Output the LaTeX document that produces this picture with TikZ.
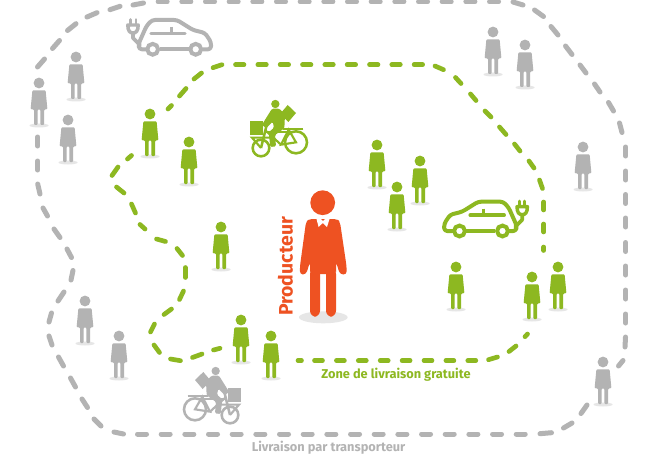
\documentclass[tikz,border=0pt]{standalone}
\usepackage{fontspec}
\setmainfont{Fira Sans}
\definecolor{gn}{HTML}{8DB821}
\definecolor{gy}{HTML}{B3B3B3}
\definecolor{og}{HTML}{EE5222}
\definecolor{sh}{HTML}{E6E6E6}
\tikzset{
  grayline/.style={draw=gy,line width=3.75pt,line cap=round},
  greenline/.style={draw=gn,line width=3.5pt,line cap=round},
  label/.style={inner sep=0pt,font=\bfseries}
}
\newcommand\personshape[3]{%
  \begin{scope}[shift={(#1,#2)}]
    \fill[sh] (0,42.5) ellipse (9.5 and 2);
    \fill[#3,rounded corners=0.8pt] (-6.6,7.3)--(6.6,7.3)--(8.4,26.3)--(5.2,26.3)--(5.2,42)--(1.3,42)--(1.3,26.3)--(-1.3,26.3)--(-1.3,42)--(-5.0,42)--(-5.0,26.3)--(-8.4,26.3)--cycle;
    \fill[#3] (0,0) circle (5.4);
  \end{scope}}
\newcommand\carshape[1]{%
  \draw[#1,line width=3pt,line join=round,line cap=round,rounded corners=2.2pt]
    (146,49.3)--(139,49.3)--(138.5,44)--(146.5,26)--(152,20)--(177,20)--(193,30)--(205,33)--(211,42)--(211,49.3)--(203,49.3);
  \draw[#1,line width=3pt] (160,49.3)--(189,49.3);
  \draw[#1,line width=2.6pt,line cap=round] (151,33.5)--(185,33.5);
  \draw[#1,line width=2pt] (171.5,27)--(171.5,33.5);
  \draw[#1,line width=3pt] (152.7,49.3) circle (5.4);
  \draw[#1,line width=3pt] (195.7,49.3) circle (5.4);
  \draw[#1,line width=2.6pt,line cap=round,line join=round] (127.8,25) .. controls (127.8,31) and (130,33) .. (133,33) .. controls (136,33) and (138.2,31) .. (138.2,25)--cycle;
  \draw[#1,line width=2.2pt,line cap=round] (130.5,19.5)--(130.5,25) (136,19.5)--(136,25);
  \draw[#1,line width=2.8pt,line cap=round,line join=round] (133,33)--(133,38)--(140,45);
}
\newcommand\bikeshape[1]{%
  \draw[#1,line width=1.9pt] (60,148) circle (33);
  \draw[#1,line width=1.9pt] (165,165) circle (25);
  \fill[#1] (122,33) circle (12.5);
  \fill[#1] (85,36)--(107,62)--(83,87)--(60,60)--cycle;
  \fill[#1,rounded corners=1pt] (93,64)--(110,47)--(132,47)--(162,95)--(150,106)--(130,86)--(126,104)--(142,118)--(137,162)--(120,160)--(123,126)--(95,106)--cycle;
  \fill[#1] (160,84)--(198,84)--(198,125)--(160,125)--cycle;
  \draw[#1,line width=1.6pt] (38,108)--(100,108);
  \draw[#1,line width=1.6pt] (60,148)--(82,110)--(105,155)--cycle;
  \draw[#1,line width=1.6pt] (82,118)--(150,118);
  \draw[#1,line width=1.6pt] (105,155)--(152,112);
  \draw[#1,line width=1.9pt] (148,96)--(165,165);
  \draw[#1,line width=1.6pt] (135,134)--(192,134)--(165,165);
}
\begin{document}
\begin{tikzpicture}[x=0.75pt,y=-0.75pt]
\useasboundingbox (0,0) rectangle (659,456);
\fill[white] (0,0) rectangle (659,456);

% outer dashes
\foreach \k in {-2,...,12}{\draw[grayline] ({205.5+23.67*\k},2)--({214.5+23.67*\k},2);}
\foreach \k in {0,...,16}{\draw[grayline] ({137.5+23.67*\k},434)--({146.5+23.67*\k},434);}
\foreach \a/\b/\c/\d in {37.7/137/37.7/146,37.7/161/37.7/170,37.7/184/40/194,43/208/47.5/216,54/229/60/237.5,
 67/249/71.5/257.5,73/270.5/71/280,64/292/58/301,51.5/313/49/322,49/336/52/345,58.5/357/63.5/366,70.5/378/75.5/387,
 82/399/87.5/407.5,94/419/101/426,114/432/123.5/434,
 540/433.7/551.5/432.7,563.5/428/572/423,581/413.5/587/405,618.5/366/623/360.5,625/347/625.5/337,
 625.7/314/625.7/323,625.7/290/625.7/299,625.7/266/625.7/275,625.7/242.5/625.7/251.5,625.7/218/625.7/227,625.7/194.5/625.7/203.5,625.7/171/625.7/180,625.7/147/625.7/156,
 622/132.5/619.5/123,613.5/111/608.5/102.5,600/92/594.5/84,586/73/580/65,572/54.5/565.5/46,558/35/551/26.5,543.5/16.5/534.5/10,523/5/513/2,
 143.5/3/133/5,120/6.3/110/9.7,97/12.7/87/17,76/23.7/67.5/30.5,59.5/40.5/52.5/48.5,44.5/59/37.5/67}
 {\draw[grayline] (\a,\b)--(\c,\d);}

% inner dashes
\foreach \k in {0,...,8}{\draw[greenline] ({235.5+22.33*\k},64.7)--({244+22.33*\k},64.7);}
\foreach \k in {0,...,7}{\draw[greenline] ({314.5+21.9*\k},360.6)--({322.5+21.9*\k},360.6);}
\foreach \a/\b/\c/\d in {298/360.6/301.5/360.6,
 213/67.7/222/64.7,435/66/443.5/69.7,455.5/77.5/461/83.5,470.5/94/476/100.5,485/111/491/117,499.5/127/506/134.5,514.5/144/520/151,529/161/534/168,539.5/180/542.5/188.5,
 543.7/202/543.7/210,543.7/224/543.7/232,543.7/247/543.7/250.5,
 527.5/334/525/336.7,516/346/509/351.5,497.5/357/488.5/359.7,
 213.5/350/220/348.3,192.5/357.5/202/354,170.5/359/180.5/360.7,154/345/159.5/352.5,150.5/332/154.5/324,164/314.5/171.5/309,179.5/299.5/183.5/291,185.3/277.5/185.3/267.5,182.5/255.5/177/248.5,165.5/241.5/156.5/239,145/229/140/224.5,
 135.5/213/131.5/204,124/193/116.5/187,112/175.5/118/167,127.5/159/131.5/155.5,
 168/109/171.5/105.5,179.5/96/186/88.5,194/79/201.5/73}
 {\draw[greenline] (\a,\b)--(\c,\d);}

% people
\foreach \x/\y in {76/57,39/83,68/120,85/301,119/336,493/32,525/45,583/147,603/362}{\personshape{\x}{\y}{gy}}
\foreach \x/\y in {150/114,189/142,221/227,241/320,271/336,377/145,420/161,397/187,456/267,532/277,558/267}{\personshape{\x}{\y}{gn}}

% cars
\carshape{gy}
\begin{scope}[shift={(655.2,181.7)},xscale=-1]\carshape{gn}\end{scope}

% bikes
\begin{scope}[shift={(175,360)},scale=0.3333]\bikeshape{gy}\end{scope}
\begin{scope}[shift={(316,93)},xscale=-0.3333,yscale=0.3333]\bikeshape{gn}\end{scope}

% producer
\fill[sh] (323.3,317.3) ellipse (24.3 and 6);
\fill[og] (322.7,202.7) circle (12.4);
\fill[og,rounded corners=2.5pt] (309,219)--(337,219)--(340,222)--(346.5,266)--(346.8,274.5)--(340,274.5)--(336,262)--(336,274)--(336,274)--(310,274)--(310,262)--(306,274.5)--(299.8,274.5)--(300,266)--(306,222)--cycle;
\fill[og,rounded corners=4.5pt] (310,268)--(320,268)--(320,316.7)--(310,316.7)--cycle;
\fill[og,rounded corners=4.5pt] (326,268)--(336,268)--(336,316.7)--(326,316.7)--cycle;
\fill[white] (316.5,219)--(329.5,219)--(327,227)--(322.8,223)--(318.6,227)--cycle;
\fill[og] (321,219)--(325,219)--(323,220.8)--cycle;

% labels
\node[label,text=og,rotate=90,font=\bfseries\fontsize{14.6pt}{14.6pt}\selectfont] (prod) at (285.5,266.5) {Producteur};
\node[label,text=gn,font=\bfseries\fontsize{9.6pt}{10pt}\selectfont] (zone) at (396,375) {Zone de livraison gratuite};
\node[label,text=gy,font=\bfseries\fontsize{9.6pt}{10pt}\selectfont] (liv) at (328.5,448) {Livraison par transporteur};
\end{tikzpicture}
\end{document}
